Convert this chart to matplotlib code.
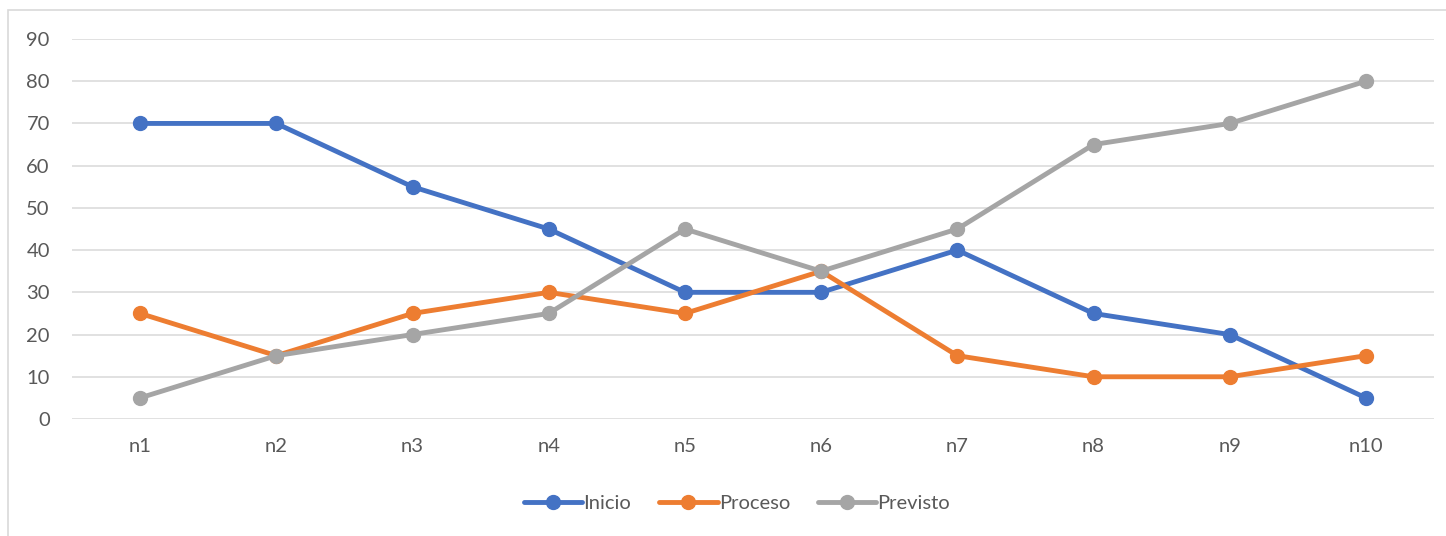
import matplotlib.pyplot as plt
from matplotlib.patches import Rectangle

categorias = ["n1", "n2", "n3", "n4", "n5", "n6", "n7", "n8", "n9", "n10"]
inicio = [70, 70, 55, 45, 30, 30, 40, 25, 20, 5]
proceso = [25, 15, 25, 30, 25, 35, 15, 10, 10, 15]
previsto = [5, 15, 20, 25, 45, 35, 45, 65, 70, 80]
yticks = [0, 10, 20, 30, 40, 50, 60, 70, 80, 90]

plt.rcParams['font.family'] = ['Lato', 'DejaVu Sans']

W, H = 1446, 536
fig = plt.figure(figsize=(W / 100, H / 100), dpi=100)
ax = fig.add_axes([72 / W, 1 - 419 / H, (1434 - 72) / W, (419 - 39) / H])

# marco del grafico
fig.add_artist(Rectangle((8 / W, -0.1), 2, 1 - 10 / H + 0.1, transform=fig.transFigure,
                         fill=False, ec="#d9d9d9", lw=1.2))

x = list(range(len(categorias)))
series = [(inicio, "Inicio", "#4472C4"), (proceso, "Proceso", "#ED7D31"), (previsto, "Previsto", "#A5A5A5")]
for vals, nombre, col in series:
    ax.plot(x, vals, color=col, lw=3.5, marker="o", ms=10, label=nombre,
            solid_capstyle="round", zorder=3)

ax.set_xlim(-0.5, len(categorias) - 0.5)
ax.set_ylim(0, 90)
ax.set_yticks(yticks)
ax.set_xticks(x)
ax.set_xticklabels(categorias)
ax.grid(axis="y", color="#d9d9d9", lw=1.1)
ax.set_axisbelow(True)
for s in ax.spines.values():
    s.set_visible(False)
ax.tick_params(length=0, labelsize=14.5, labelcolor="#595959")
ax.tick_params(axis="y", pad=16)
ax.tick_params(axis="x", pad=14)

fig.legend(loc="center", bbox_to_anchor=(737 / W, 1 - 503 / H), ncol=3, frameon=False,
           fontsize=14.5, labelcolor="#595959", handlelength=2.9, handletextpad=0.05,
           columnspacing=1.4)

fig.savefig("out.png", dpi=100)
